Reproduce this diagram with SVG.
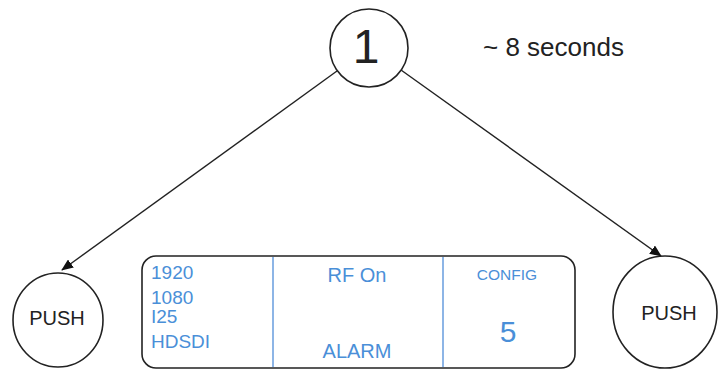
<svg xmlns="http://www.w3.org/2000/svg" width="720" height="370" viewBox="0 0 720 370">
<defs>
<style>
.node{fill:#fff;stroke:#222;stroke-width:1.6}
.lbl{font-family:"Liberation Sans",Arial,sans-serif;fill:#222}
.blue{font-family:"Liberation Sans",Arial,sans-serif;fill:#4a8fd8}
.div{stroke:#8db5e6;stroke-width:2}
.conn{stroke:#222;stroke-width:1.4;fill:none}
</style>
<marker id="ah" viewBox="0 0 12 10" refX="11" refY="5" markerWidth="12" markerHeight="10" markerUnits="userSpaceOnUse" orient="auto">
<path d="M0,0 L12,5 L0,10 Z" fill="#111"/>
</marker>
</defs>
<rect width="720" height="370" fill="#fff"/>
<g id="connectors">
<line class="conn" x1="337" y1="71" x2="62" y2="270" marker-end="url(#ah)"/>
<line class="conn" x1="401" y1="70" x2="661" y2="256" marker-end="url(#ah)"/>
</g>
<g id="step1">
<circle class="node" cx="369" cy="48" r="39"/>
<text class="lbl" x="366" y="63" font-size="48" text-anchor="middle">1</text>
</g>
<g id="time-label">
<text class="lbl" x="483" y="56" font-size="26" fill="#333">~ 8 seconds</text>
</g>
<g id="push-left">
<ellipse class="node" cx="58" cy="320" rx="45" ry="47"/>
<text class="lbl" x="57" y="325" font-size="20" text-anchor="middle">PUSH</text>
</g>
<g id="push-right">
<ellipse class="node" cx="665" cy="312" rx="52" ry="56"/>
<text class="lbl" x="669" y="320" font-size="20" text-anchor="middle">PUSH</text>
</g>
<g id="display">
<rect class="node" x="142" y="256" width="433" height="112" rx="14" ry="14"/>
<line class="div" x1="273" y1="257" x2="273" y2="367"/>
<line class="div" x1="443" y1="257" x2="443" y2="367"/>
<text class="blue" x="151" y="279" font-size="19">1920</text>
<text class="blue" x="151" y="304" font-size="19">1080</text>
<text class="blue" x="151" y="323" font-size="19">I25</text>
<text class="blue" x="151" y="348" font-size="19">HDSDI</text>
<text class="blue" x="357" y="282" font-size="20" text-anchor="middle">RF On</text>
<text class="blue" x="357" y="358" font-size="20" text-anchor="middle">ALARM</text>
<text class="blue" x="507" y="280" font-size="15.5" text-anchor="middle">CONFIG</text>
<text class="blue" x="508" y="342" font-size="30" text-anchor="middle">5</text>
</g>
</svg>
